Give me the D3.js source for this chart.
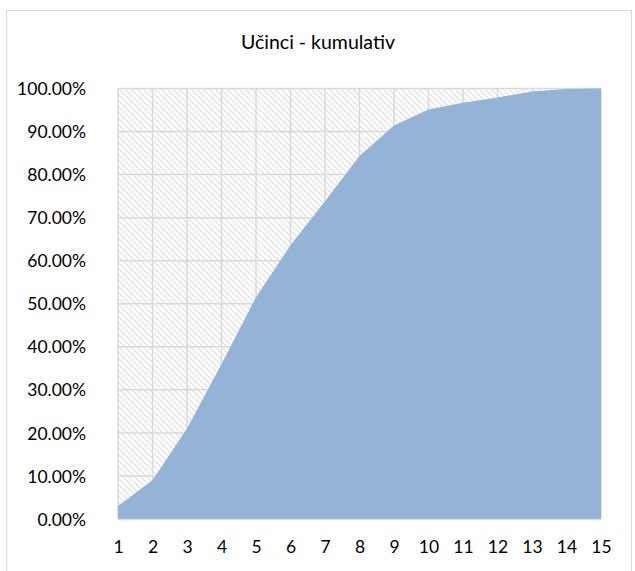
<!DOCTYPE html>
<html><head><meta charset="utf-8">
<script src="https://cdn.jsdelivr.net/npm/d3@7"></script>
<style>body{margin:0;background:#fff}svg{display:block}</style>
</head><body>
<svg id="c" width="635" height="571"></svg>
<script>
const title = "Učinci - kumulativ";
const categories = [1,2,3,4,5,6,7,8,9,10,11,12,13,14,15];
const values = [3.0, 9.0, 21.0, 36.0, 51.5, 63.6, 73.8, 84.3, 91.4, 95.1, 96.7, 97.9, 99.3, 99.9, 100.0];
const yTicks = [0,10,20,30,40,50,60,70,80,90,100];

const svg = d3.select("#c");
const font = "Lato, 'Open Sans', sans-serif";
const L = 118, R = 601, T = 88.5, B = 519;

svg.append("rect").attr("x",6.5).attr("y",10.5).attr("width",625).attr("height",575)
  .attr("fill","#fff").attr("stroke","#d9d9d9").attr("stroke-width",1);

const defs = svg.append("defs");
const pat = defs.append("pattern").attr("id","hatch").attr("patternUnits","userSpaceOnUse")
  .attr("width",6).attr("height",6);
pat.append("rect").attr("width",6).attr("height",6).attr("fill","#fff");
pat.append("path").attr("d","M-1,-1 L7,7 M-1,5 L1,7 M5,-1 L7,1")
  .attr("stroke","#dedede").attr("stroke-width",1.1);

const x = d3.scaleLinear().domain([1,15]).range([L,R]);
const y = d3.scaleLinear().domain([0,100]).range([B,T]);

svg.append("rect").attr("x",L).attr("y",T).attr("width",R-L).attr("height",B-T).attr("fill","url(#hatch)");

svg.append("g").selectAll("line").data(yTicks).join("line")
  .attr("x1",L).attr("x2",R).attr("y1",d=>y(d)).attr("y2",d=>y(d))
  .attr("stroke","#d9d9d9").attr("stroke-width",1.5);
svg.append("g").selectAll("line").data(categories).join("line")
  .attr("y1",T).attr("y2",B).attr("x1",d=>x(d)).attr("x2",d=>x(d))
  .attr("stroke","#d9d9d9").attr("stroke-width",1.5);

const area = d3.area().x((d,i)=>x(categories[i])).y0(y(0)).y1(d=>y(d));
svg.append("path").datum(values).attr("d",area).attr("fill","#95b3d7");

svg.append("line").attr("x1",L).attr("x2",R).attr("y1",B+0.5).attr("y2",B+0.5)
  .attr("stroke","#d9d9d9").attr("stroke-width",1.5);

const yAxis = d3.axisLeft(y).tickValues(yTicks).tickSize(0).tickPadding(0)
  .tickFormat(d=>d.toFixed(2)+"%");
const gy = svg.append("g").attr("transform",`translate(${86},0)`).call(yAxis);
gy.select(".domain").remove();
gy.selectAll("text").attr("font-family",font).attr("font-size",17.5).attr("fill","#000").attr("dy","0.35em");

const xAxis = d3.axisBottom(x).tickValues(categories).tickSize(0).tickPadding(0).tickFormat(d=>d);
const gx = svg.append("g").attr("transform",`translate(0,${541})`).call(xAxis);
gx.select(".domain").remove();
gx.selectAll("text").attr("font-family",font).attr("font-size",17.5).attr("fill","#000");

svg.append("text").attr("x",318).attr("y",49).attr("text-anchor","middle")
  .attr("font-family",font).attr("font-size",19.5).attr("fill","#000").text(title);
</script>
</body></html>
